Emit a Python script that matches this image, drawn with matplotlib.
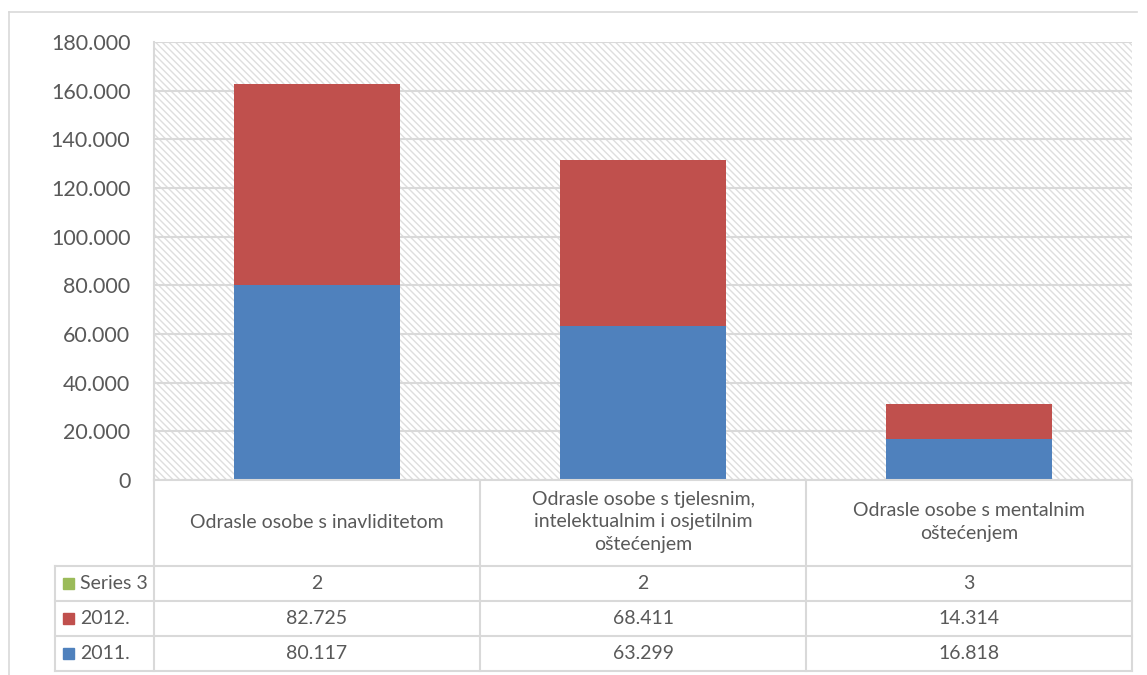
import matplotlib
matplotlib.use("Agg")
import matplotlib.pyplot as plt
import matplotlib.transforms as mtransforms
from matplotlib.patches import Rectangle
from matplotlib.lines import Line2D

plt.rcParams['font.family'] = ['Lato', 'DejaVu Sans']
plt.rcParams['hatch.color'] = '#dedede'
plt.rcParams['hatch.linewidth'] = 1.0

# podaci
kategorije = ["Odrasle osobe s inavliditetom",
              "Odrasle osobe s tjelesnim,\nintelektualnim i osjetilnim\noštećenjem",
              "Odrasle osobe s mentalnim\noštećenjem"]
serija_2011 = [80117, 63299, 16818]
serija_2012 = [82725, 68411, 14314]
serija_3 = [2, 2, 3]
nazivi = ["Series 3", "2012.", "2011."]
boje = {"2011.": "#4f81bd", "2012.": "#c0504d", "Series 3": "#9bbb59"}
y_ticks = list(range(0, 180001, 20000))

W, H = 1147, 675
txt = '#595959'
grid_c = '#d9d9d9'


def fmt(v):
    return "{:,}".format(v).replace(",", ".")


fig = plt.figure(figsize=(W / 100, H / 100), dpi=100)

def fx(x):
    return x / W

def fy(y):
    return 1 - y / H

# okvir grafikona (samo gore i lijevo)
fig.add_artist(Line2D([fx(9), fx(1137)], [fy(12), fy(12)], color=grid_c,
                      lw=1.2, transform=fig.transFigure))
fig.add_artist(Line2D([fx(9), fx(9)], [fy(12), fy(700)], color=grid_c,
                      lw=1.2, transform=fig.transFigure))

ax = fig.add_axes([fx(154), fy(480), fx(1132 - 154), (480 - 42) / H])
ax.patch.set_facecolor('white')
ax.patch.set_hatch('\\' * 5)
ax.patch.set_edgecolor('#dedede')
ax.patch.set_linewidth(0)

x = list(range(len(kategorije)))
sirina = 0.512
dno2 = serija_2011
dno3 = [a + b for a, b in zip(serija_2011, serija_2012)]
ax.bar(x, serija_2011, sirina, color=boje["2011."], zorder=3)
ax.bar(x, serija_2012, sirina, bottom=dno2, color=boje["2012."], zorder=3)
ax.bar(x, serija_3, sirina, bottom=dno3, color=boje["Series 3"], zorder=3)

ax.set_xlim(-0.5, len(kategorije) - 0.5)
ax.set_ylim(0, 180000)
ax.set_yticks(y_ticks)
ax.set_yticklabels([fmt(v) for v in y_ticks], fontsize=15.5, color=txt)
ax.tick_params(axis='y', length=0, pad=17)
ax.set_xticks([])
ax.grid(axis='y', color=grid_c, lw=1.5, zorder=1)
ax.set_axisbelow(True)
for s in ['top', 'right', 'bottom']:
    ax.spines[s].set_visible(False)
ax.spines['left'].set_color(grid_c)
ax.spines['left'].set_linewidth(1.5)

# tablica podataka
tr = mtransforms.blended_transform_factory(ax.transData, fig.transFigure)
redovi = [566, 601, 636, 671]
lc = dict(color=grid_c, lw=1.5, transform=fig.transFigure)

# vodoravne crte
fig.add_artist(Line2D([fx(154), fx(1132)], [fy(480), fy(480)], **lc))
for yy in redovi:
    fig.add_artist(Line2D([fx(55), fx(1132)], [fy(yy), fy(yy)], **lc))
# okomite crte
for xx in [154, 480, 806, 1132]:
    fig.add_artist(Line2D([fx(xx), fx(xx)], [fy(480), fy(671)], **lc))
fig.add_artist(Line2D([fx(55), fx(55)], [fy(566), fy(671)], **lc))

for i, k in enumerate(kategorije):
    fig.text(i, fy(522), k, transform=tr, ha='center', va='center',
             fontsize=14, color=txt, linespacing=1.38)

vrijednosti = {"Series 3": serija_3, "2012.": serija_2012, "2011.": serija_2011}
for r, naziv in enumerate(nazivi):
    yc = (redovi[r] + redovi[r + 1]) / 2
    fig.add_artist(Rectangle((fx(63), fy(yc + 5.5)), fx(11), 11 / H,
                             transform=fig.transFigure,
                             color=boje[naziv]))
    fig.text(fx(80), fy(yc), naziv, ha='left', va='center',
             fontsize=14, color=txt)
    for i, v in enumerate(vrijednosti[naziv]):
        fig.text(i, fy(yc), fmt(v), transform=tr, ha='center', va='center',
                 fontsize=14, color=txt)

fig.savefig("out.png", dpi=100)
